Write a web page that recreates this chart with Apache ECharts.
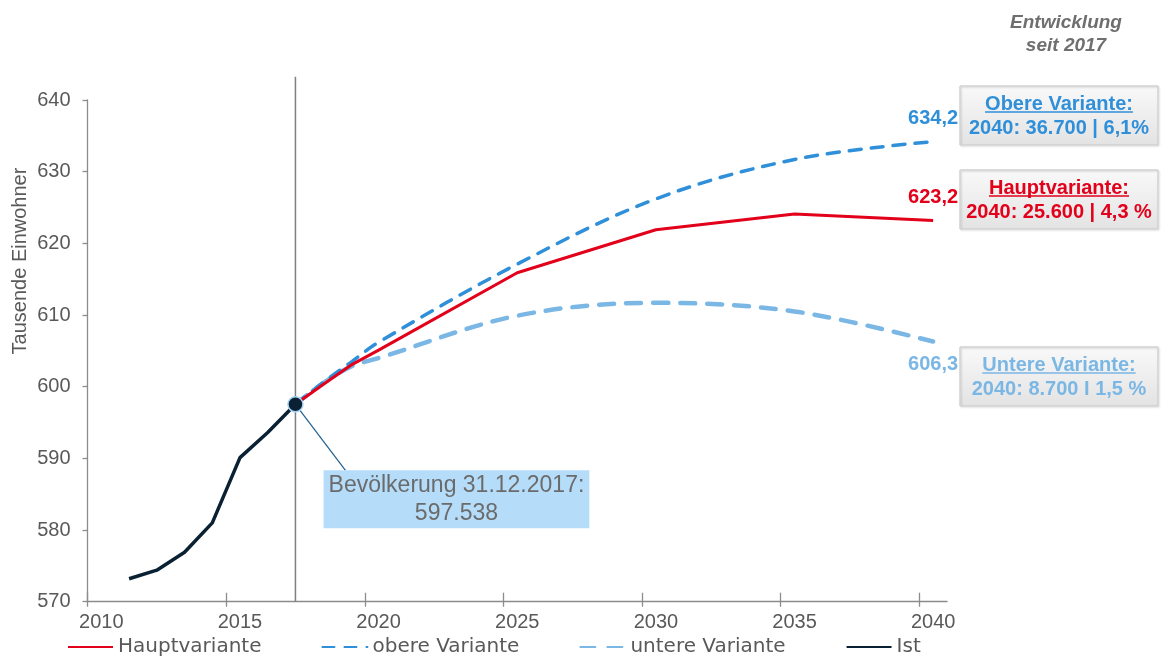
<!DOCTYPE html>
<html>
<head>
<meta charset="utf-8">
<title>Bevölkerungsentwicklung</title>
<script src="https://cdn.jsdelivr.net/npm/echarts@6/dist/echarts.min.js"></script>
<style>
  html, body { margin: 0; padding: 0; background: #ffffff; }
  #chart { width: 1161px; height: 660px; }
</style>
</head>
<body>
<div id="chart"></div>
<script>
// ---- data (thousand inhabitants) ----
const years = ['2010','2011','2012','2013','2014','2015','2016','2017','2018','2019','2020',
  '2021','2022','2023','2024','2025','2026','2027','2028','2029','2030',
  '2031','2032','2033','2034','2035','2036','2037','2038','2039','2040'];
const tickYears = [2010, 2015, 2020, 2025, 2030, 2035, 2040];

const istYears  = ['2011','2012','2013','2014','2015','2016','2017'];
const istValues = [573.2, 574.4, 576.9, 581.0, 590.1, 593.6, 597.538];

const projYears    = ['2017','2018','2019','2020','2025','2030','2035','2040'];
const hauptValues  = [597.538, 600.3, 603.0, 605.1, 615.9, 621.9, 624.1, 623.2];
const obereValues  = [597.538, 600.6, 603.4, 606.2, 617.1, 626.2, 631.7, 634.2];
const untereValues = [597.538, 600.5, 602.8, 604.0, 609.9, 611.7, 610.5, 606.3];

// reference line at the base date, running up above the plot
const stichtagYear = '2017';
const stichtagRange = [570, 643.25];

const summaryBoxes = [
  { title: 'Obere Variante:', line: '2040: 36.700 | 6,1%',  color: '#2f8fd9' },
  { title: 'Hauptvariante:',  line: '2040: 25.600 | 4,3 %', color: '#e2001a' },
  { title: 'Untere Variante:', line: '2040: 8.700 I 1,5 %', color: '#7bb7e5' }
];

// ---- styles ----
const FONT = '"Liberation Sans", Arial, sans-serif';
const GREY = '#595959';
const AXIS = '#8c8c8c';
const C_HAUPT = '#e2001a';
const C_OBERE = '#2f8fd9';
const C_UNTERE = '#7bb7e5';
const C_IST = '#0a2133';

const fmtDec = v => v.toFixed(1).replace('.', ',');
const fmtThousands = v => String(Math.round(v * 1000)).replace(/\B(?=(\d{3})+(?!\d))/g, '.');

function pairs(xs, ys) { return xs.map((x, i) => [x, ys[i]]); }

// value label at the 2040 end of a projection
function endPoint(xs, ys, color, pos) {
  const last = xs.length - 1;
  return {
    value: [xs[last], ys[last]],
    label: {
      show: true, position: pos, distance: 13,
      formatter: p => fmtDec(p.value[1]),
      color: color, fontFamily: FONT, fontWeight: 'bold', fontSize: 20
    }
  };
}

const chart = echarts.init(document.getElementById('chart'), null, { renderer: 'canvas' });

// tick axes (outside and inside part of the crossing ticks)
function tickAxis(inside, len) {
  return {
    type: 'value', position: 'bottom', min: 2010, max: 2041,
    axisLine: { show: false, onZero: false },
    axisLabel: { show: false },
    splitLine: { show: false },
    axisTick: { show: true, inside: inside, length: len, customValues: tickYears,
      lineStyle: { color: AXIS, width: 1.3 } }
  };
}

// summary boxes at the right
const measure = document.createElement('canvas').getContext('2d');
measure.font = 'bold 20px "Liberation Sans"';
const boxTops = [86, 170, 347];
const boxX = 960, boxW = 198, boxH = 59;
const graphics = [];
summaryBoxes.forEach((b, i) => {
  const top = boxTops[i];
  const cx = boxX + boxW / 2;
  const w = measure.measureText(b.title).width;
  graphics.push({
    id: 'box' + i, type: 'rect', z: 10,
    shape: { x: boxX, y: top, width: boxW, height: boxH },
    style: {
      fill: new echarts.graphic.LinearGradient(0, 0, 0, 1, [
        { offset: 0, color: '#f9f9f9' }, { offset: 1, color: '#e3e3e3' }
      ]),
      stroke: '#d3d3d3', lineWidth: 1,
      shadowBlur: 2, shadowOffsetX: 1, shadowOffsetY: 1, shadowColor: 'rgba(0,0,0,0.15)'
    }
  });
  graphics.push({
    id: 'boxTitle' + i, type: 'text', z: 11, x: cx, y: top + 18,
    style: { text: b.title, fill: b.color, font: 'bold 20px ' + FONT,
      align: 'center', verticalAlign: 'middle', textAlign: 'center', textVerticalAlign: 'middle' }
  });
  graphics.push({
    id: 'boxUnderline' + i, type: 'line', z: 11,
    shape: { x1: cx - w / 2, y1: top + 26, x2: cx + w / 2, y2: top + 26 },
    style: { stroke: b.color, lineWidth: 1.5 }
  });
  graphics.push({
    id: 'boxLine' + i, type: 'text', z: 11, x: cx, y: top + 42,
    style: { text: b.line, fill: b.color, font: 'bold 20px ' + FONT,
      align: 'center', verticalAlign: 'middle', textAlign: 'center', textVerticalAlign: 'middle' }
  });
});
graphics.push({
  id: 'heading', type: 'text', x: 1066, y: 34,
  style: { text: 'Entwicklung\nseit 2017', fill: '#6f6f6f', font: 'italic bold 19px ' + FONT,
    lineHeight: 23, align: 'center', verticalAlign: 'middle', textAlign: 'center', textVerticalAlign: 'middle' }
});
graphics.push({
  id: 'yTitle', type: 'text', x: 20, y: 261, rotation: Math.PI / 2,
  style: { text: 'Tausende Einwohner', fill: GREY, font: '20px ' + FONT,
    align: 'center', verticalAlign: 'middle', textAlign: 'center', textVerticalAlign: 'middle' }
});

const lastIst = istValues.length - 1;

const option = {
  animation: false,
  backgroundColor: '#ffffff',
  grid: { left: 87.5, right: 214, top: 100, bottom: 58.3 },
  legend: {
    data: ['Hauptvariante', 'obere Variante', 'untere Variante', 'Ist'],
    left: 67, top: 637, padding: 0,
    itemWidth: 45, itemHeight: 14, itemGap: 60,
    itemStyle: { opacity: 0 },
    textStyle: { fontFamily: '"DejaVu Sans", sans-serif', fontSize: 20, color: GREY }
  },
  xAxis: [
    {
      type: 'category', data: years, boundaryGap: true, position: 'bottom',
      axisLine: { show: true, onZero: false, lineStyle: { color: AXIS, width: 1.3 } },
      axisTick: { show: false },
      axisLabel: { interval: 4, fontFamily: FONT, fontSize: 20, color: GREY, margin: 11 },
      splitLine: { show: false }
    },
    tickAxis(false, 5),
    tickAxis(true, 9)
  ],
  yAxis: {
    type: 'value', min: 570, max: 640, interval: 10,
    axisLine: { show: true, onZero: false, lineStyle: { color: AXIS, width: 1.3 } },
    axisTick: { show: true, length: 5, lineStyle: { color: AXIS, width: 1.3 } },
    axisLabel: { fontFamily: FONT, fontSize: 20, color: GREY, margin: 17 },
    splitLine: { show: false }
  },
  graphic: graphics,
  series: [
    {
      name: 'Stichtag', type: 'line', silent: true, clip: false, z: 1,
      symbol: 'none',
      data: [[stichtagYear, stichtagRange[0]], [stichtagYear, stichtagRange[1]]],
      lineStyle: { color: '#7f7f7f', width: 1.5 }
    },
    {
      name: 'untere Variante', type: 'line', smooth: 0.35, symbol: 'none', z: 3,
      data: pairs(projYears, untereValues),
      itemStyle: { color: C_UNTERE },
      lineStyle: { color: C_UNTERE, width: 4.5, type: [15, 12], cap: 'round' }
    },
    {
      name: 'obere Variante', type: 'line', smooth: 0.35, symbol: 'none', z: 4,
      data: pairs(projYears, obereValues),
      itemStyle: { color: C_OBERE },
      lineStyle: { color: C_OBERE, width: 3.5, type: [12, 10], cap: 'round' }
    },
    {
      name: 'Hauptvariante', type: 'line', symbol: 'none', z: 5,
      data: pairs(projYears, hauptValues),
      itemStyle: { color: C_HAUPT },
      lineStyle: { color: C_HAUPT, width: 3 }
    },
    {
      name: 'Ist', type: 'line', symbol: 'none', z: 6,
      data: pairs(istYears, istValues),
      itemStyle: { color: C_IST },
      lineStyle: { color: C_IST, width: 3.5 }
    },
    {
      name: 'Endwerte 2040', type: 'scatter', silent: true, z: 7,
      symbolSize: 0,
      itemStyle: { opacity: 1 },
      data: [
        endPoint(projYears, obereValues, C_OBERE, 'top'),
        endPoint(projYears, hauptValues, C_HAUPT, 'top'),
        endPoint(projYears, untereValues, C_UNTERE, 'bottom')
      ]
    },
    {
      name: 'Bevölkerung', type: 'scatter', z: 8,
      symbol: 'circle', symbolSize: 15,
      data: [[istYears[lastIst], istValues[lastIst]]],
      itemStyle: { color: C_IST, borderColor: '#a8d3f2', borderWidth: 1.5, opacity: 1 },
      label: {
        show: true, position: 'inside',
        formatter: p => 'Bevölkerung 31.12.2017:\n' + fmtThousands(p.value[1]),
        fontFamily: FONT, fontSize: 23, lineHeight: 28, color: '#6b6b6b',
        backgroundColor: '#b5ddfa', padding: [1, 5, 1, 5]
      },
      labelLayout: { dx: 161, dy: 95 }
    }
  ]
};

chart.setOption(option);

// leader line from the base-date point to the top edge of its callout
const anchor = chart.convertToPixel({ xAxisIndex: 0, yAxisIndex: 0 }, [istYears[lastIst], istValues[lastIst]]);
chart.setOption({
  graphic: graphics.concat([{
    id: 'leader', type: 'line', z: 5,
    shape: { x1: anchor[0], y1: anchor[1], x2: anchor[0] + 50, y2: anchor[1] + 66 },
    style: { stroke: '#1f5f8f', lineWidth: 1.2 }
  }])
});
</script>
</body>
</html>
